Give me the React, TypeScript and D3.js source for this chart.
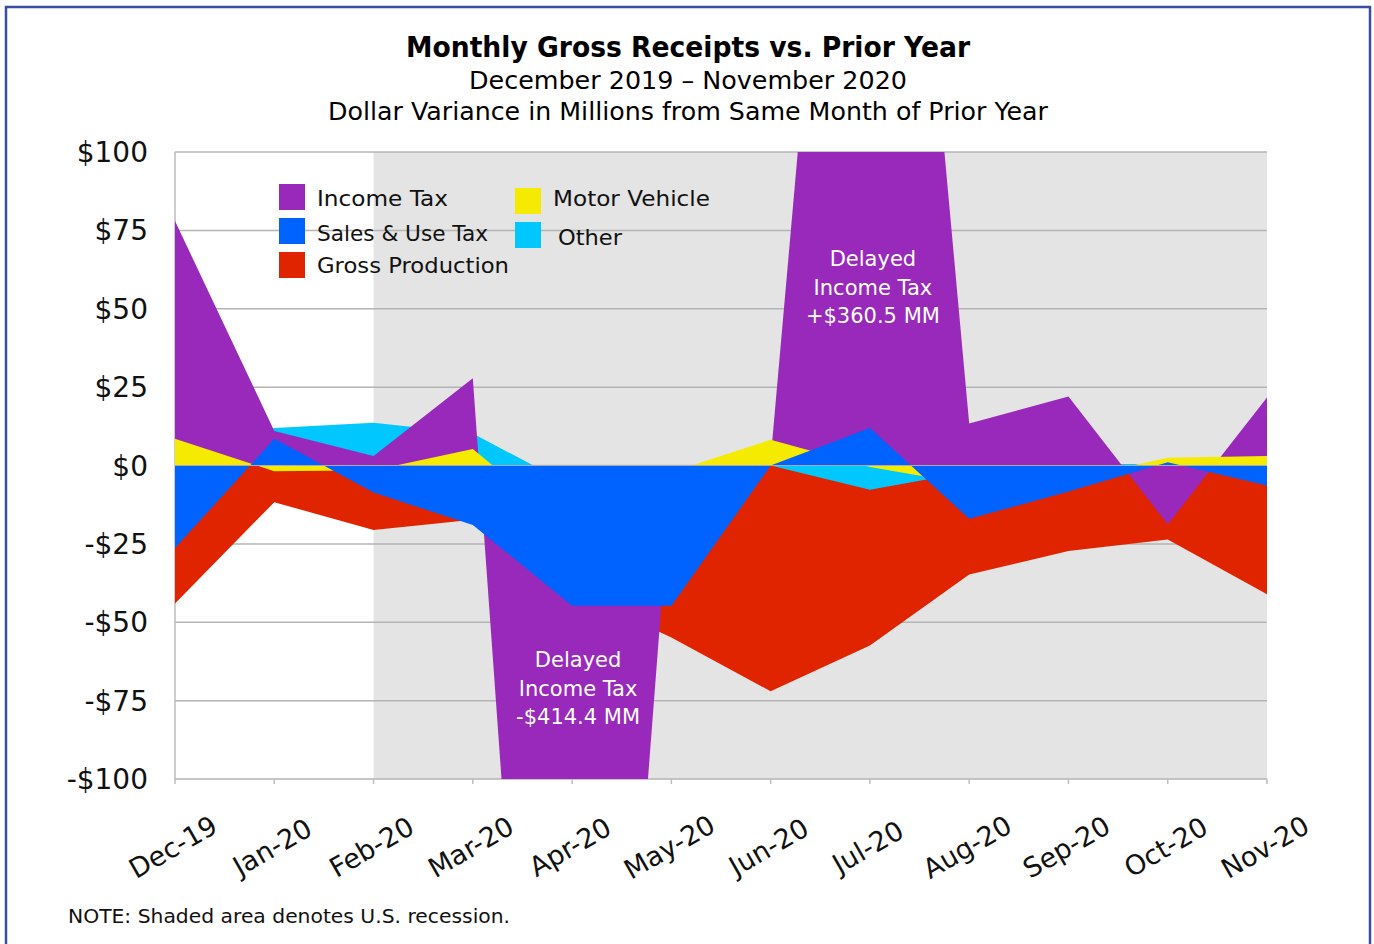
import { useEffect, useRef } from 'react';
import * as d3 from 'd3';

const months = ["Dec-19", "Jan-20", "Feb-20", "Mar-20", "Apr-20", "May-20", "Jun-20", "Jul-20", "Aug-20", "Sep-20", "Oct-20", "Nov-20"];
const incomeTax = [78, 11, 3, 27.8, -414.4, -3, 2, 360.5, 13.4, 22, -18.8, 21.7];
const salesUseTax = [-26.3, 8.5, -8.6, -19, -44.7, -44.7, 0, 12, -17, -8.3, 1, -6.4];
const grossProduction = [-44, -11.7, -20.6, -17.3, -40, -54.9, -72, -57.4, -34.8, -27.3, -23.6, -41.1];
const motorVehicle = [8.5, -1.8, -1.5, 5.3, -21, -2.1, 8.2, -0.5, -6, -4.5, 2.5, 3];
const other = [3, 12, 13.6, 10.2, -6.5, -3, 0, -7.7, -2, 0.5, 0.5, -1];
const yTicks = [-100, -75, -50, -25, 0, 25, 50, 75, 100];
const recessionStart = "Feb-20";

const FONT = "DejaVu Sans";

export default function App() {
  const svgRef = useRef<SVGSVGElement>(null);

  useEffect(() => {
    if (!svgRef.current) return;
    document.body.style.margin = "0";

    const svg = d3.select(svgRef.current);
    svg.selectAll("*").remove();

    const left = 175, right = 1267, top = 152, bottom = 779;

    const x = d3.scalePoint<string>().domain(months).range([left, right]);
    const y = d3.scaleLinear().domain([-100, 100]).range([bottom, top]);

    // outer frame
    svg.append("rect")
      .attr("x", 6).attr("y", 7)
      .attr("width", 1364).attr("height", 960)
      .attr("fill", "#fff")
      .attr("stroke", "#3A4DA0")
      .attr("stroke-width", 2.5);

    // recession shading
    svg.append("rect")
      .attr("x", x(recessionStart)!)
      .attr("y", top)
      .attr("width", right - x(recessionStart)!)
      .attr("height", bottom - top)
      .attr("fill", "#E4E4E4");

    // gridlines
    svg.append("g")
      .selectAll("line")
      .data(yTicks)
      .join("line")
      .attr("x1", left).attr("x2", right)
      .attr("y1", d => y(d)).attr("y2", d => y(d))
      .attr("stroke", "#B4B4B4")
      .attr("stroke-width", 1.5);

    svg.append("line")
      .attr("x1", left).attr("x2", left)
      .attr("y1", top).attr("y2", bottom)
      .attr("stroke", "#BDBDBD").attr("stroke-width", 1.5);

    // x ticks
    svg.append("g")
      .selectAll("line")
      .data(months)
      .join("line")
      .attr("x1", d => x(d)!).attr("x2", d => x(d)!)
      .attr("y1", bottom).attr("y2", bottom + 5)
      .attr("stroke", "#BDBDBD").attr("stroke-width", 1.5);

    svg.append("defs").append("clipPath")
      .attr("id", "plot-clip")
      .append("rect")
      .attr("x", left).attr("y", top)
      .attr("width", right - left).attr("height", bottom - top);

    // overlapping (not stacked) areas, bottom to top
    const series = [
      { name: "Gross Production", values: grossProduction, color: "#E02400" },
      { name: "Other", values: other, color: "#00C8FF" },
      { name: "Income Tax", values: incomeTax, color: "#9829BB" },
      { name: "Motor Vehicle", values: motorVehicle, color: "#F5EB00" },
      { name: "Sales & Use Tax", values: salesUseTax, color: "#0062FF" },
    ];

    const area = d3.area<number>()
      .x((_, i) => x(months[i])!)
      .y0(y(0))
      .y1(d => y(d));

    const areas = svg.append("g").attr("clip-path", "url(#plot-clip)");
    series.forEach(s => {
      areas.append("path")
        .datum(s.values)
        .attr("fill", s.color)
        .attr("d", area);
    });

    // zero axis line on top
    svg.append("line")
      .attr("x1", left).attr("x2", right)
      .attr("y1", y(0)).attr("y2", y(0))
      .attr("stroke", "#A9A9B8").attr("stroke-width", 1);

    // y labels
    svg.append("g")
      .selectAll("text")
      .data(yTicks)
      .join("text")
      .attr("x", 148)
      .attr("y", d => y(d) + 10)
      .attr("text-anchor", "end")
      .attr("font-family", FONT)
      .attr("font-size", 28)
      .attr("fill", "#111")
      .text(d => d < 0 ? `-$${Math.abs(d)}` : `$${d}`);

    // x labels
    svg.append("g")
      .selectAll("text")
      .data(months)
      .join("text")
      .attr("transform", d => `translate(${x(d)! - 2},847) rotate(-30)`)
      .attr("text-anchor", "middle")
      .attr("dominant-baseline", "central")
      .attr("font-family", FONT)
      .attr("font-size", 27)
      .attr("fill", "#111")
      .text(d => d);

    // titles
    const title = svg.append("g").attr("font-family", FONT).attr("fill", "#000").attr("text-anchor", "middle");
    title.append("text").attr("x", 688).attr("y", 57)
      .attr("font-size", 29).attr("font-weight", "bold")
      .attr("textLength", 564).attr("lengthAdjust", "spacingAndGlyphs")
      .text("Monthly Gross Receipts vs. Prior Year");
    title.append("text").attr("x", 688).attr("y", 89)
      .attr("font-size", 25)
      .attr("textLength", 438).attr("lengthAdjust", "spacingAndGlyphs")
      .text("December 2019 – November 2020");
    title.append("text").attr("x", 688).attr("y", 120)
      .attr("font-size", 25)
      .attr("textLength", 720).attr("lengthAdjust", "spacingAndGlyphs")
      .text("Dollar Variance in Millions from Same Month of Prior Year");

    // legend
    const legendItems = [
      { name: "Income Tax", color: "#9829BB", sx: 279, sy: 184, tx: 317, ty: 206, w: 131 },
      { name: "Sales & Use Tax", color: "#0062FF", sx: 279, sy: 218, tx: 317, ty: 241, w: 171 },
      { name: "Gross Production", color: "#E02400", sx: 279, sy: 252, tx: 317, ty: 273, w: 192 },
      { name: "Motor Vehicle", color: "#F5EB00", sx: 515, sy: 188, tx: 553, ty: 206, w: 157 },
      { name: "Other", color: "#00C8FF", sx: 515, sy: 222, tx: 558, ty: 245, w: 64 },
    ];
    const legend = svg.append("g");
    legendItems.forEach(l => {
      legend.append("rect")
        .attr("x", l.sx).attr("y", l.sy)
        .attr("width", 26).attr("height", 26)
        .attr("fill", l.color);
      legend.append("text")
        .attr("x", l.tx).attr("y", l.ty)
        .attr("font-family", FONT).attr("font-size", 21)
        .attr("fill", "#111")
        .attr("textLength", l.w).attr("lengthAdjust", "spacingAndGlyphs")
        .text(l.name);
    });

    // annotations
    const notes = [
      { cx: x("Apr-20")! + 6, lines: ["Delayed", "Income Tax", "-$414.4 MM"], y0: 667 },
      { cx: x("Jul-20")! + 3, lines: ["Delayed", "Income Tax", "+$360.5 MM"], y0: 266 },
    ];
    notes.forEach(n => {
      n.lines.forEach((t, i) => {
        svg.append("text")
          .attr("x", n.cx).attr("y", n.y0 + i * 28.5)
          .attr("text-anchor", "middle")
          .attr("font-family", FONT).attr("font-size", 21)
          .attr("fill", "#fff")
          .text(t);
      });
    });

    // footnote
    svg.append("text")
      .attr("x", 68).attr("y", 923)
      .attr("font-family", FONT).attr("font-size", 19)
      .attr("fill", "#111")
      .attr("textLength", 442).attr("lengthAdjust", "spacingAndGlyphs")
      .text("NOTE: Shaded area denotes U.S. recession.");
  }, []);

  return (
    <svg
      ref={svgRef}
      width={1374}
      height={944}
      style={{ position: 'absolute', left: 0, top: 0, display: 'block' }}
    />
  );
}
